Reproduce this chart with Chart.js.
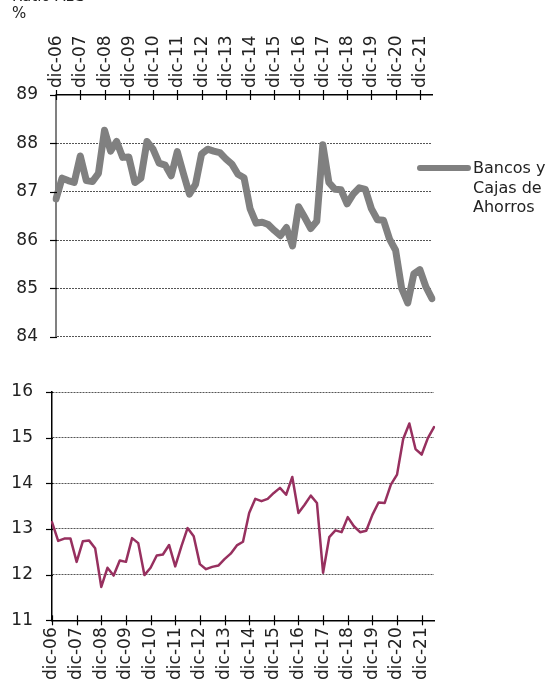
<!DOCTYPE html>
<html lang="es">
<head>
  <meta charset="UTF-8" />
  <title>Ratio por tipo de entidad</title>
  <script src="https://cdn.jsdelivr.net/npm/chart.js"></script>
  <style>
    * {
      box-sizing: border-box;
      margin: 0;
      padding: 0;
    }

    body {
      width: 558px;
      height: 686px;
      background: #fff;
      position: relative;
      overflow: hidden;
      font-family: 'DejaVu Sans', sans-serif;
    }

    #topChart {
      position: absolute;
      left: 0;
      top: 0;
    }

    #botChart {
      position: absolute;
      left: 0;
      top: 360px;
    }
  </style>
</head>
<body>

<canvas id="topChart" width="558" height="365"></canvas>
<canvas id="botChart" width="558" height="326"></canvas>

<script>
  // trimestres dic-06 .. jun-22
  const months = ['mar', 'jun', 'sep', 'dic'];
  const quarterLabels = ['dic-06'];
  for (let y = 7; y <= 22; y++) {
    for (const m of months) {
      if (y === 22 && (m === 'sep' || m === 'dic')) continue;
      quarterLabels.push(m + '-' + String(y).padStart(2, '0'));
    }
  }

  const bancosValues = [
    86.85, 87.28, 87.23, 87.19, 87.74, 87.23, 87.21, 87.38, 88.27, 87.84,
    88.04, 87.71, 87.72, 87.19, 87.28, 88.04, 87.88, 87.59, 87.55, 87.33,
    87.83, 87.38, 86.95, 87.15, 87.78, 87.88, 87.84, 87.81, 87.68, 87.57,
    87.36, 87.29, 86.65, 86.35, 86.37, 86.32, 86.20, 86.09, 86.26, 85.88,
    86.69, 86.47, 86.24, 86.39, 87.97, 87.19, 87.05, 87.04, 86.75, 86.95,
    87.08, 87.05, 86.65, 86.42, 86.41, 86.02, 85.79, 85.00, 84.70, 85.30,
    85.39, 85.03, 84.79
  ];

  const coopValues = [
    13.15, 12.74, 12.79, 12.79, 12.28, 12.73, 12.75, 12.58, 11.73, 12.15,
    11.98, 12.31, 12.28, 12.80, 12.69, 11.99, 12.15, 12.42, 12.44, 12.65,
    12.18, 12.62, 13.02, 12.84, 12.23, 12.12, 12.17, 12.20, 12.34, 12.46,
    12.64, 12.72, 13.35, 13.66, 13.61, 13.66, 13.79, 13.90, 13.75, 14.14,
    13.35, 13.53, 13.73, 13.57, 12.04, 12.82, 12.97, 12.93, 13.26, 13.06,
    12.93, 12.96, 13.31, 13.58, 13.57, 13.97, 14.19, 14.97, 15.31, 14.75,
    14.63, 14.99, 15.23
  ];

  const bancosTicks = [84, 85, 86, 87, 88, 89];
  const coopTicks = [11, 12, 13, 14, 15, 16];
  const bancosLegend = ['Bancos y', 'Cajas de', 'Ahorros'];
  const coopLegend = ['Coop.', 'de', 'Crédito'];

  const FONT = "'DejaVu Sans', sans-serif";
  Chart.defaults.font.family = FONT;

  // marcas que cruzan los ejes + leyenda a la derecha
  const decor = {
    id: 'decor',
    afterDraw(chart, args, o) {
      const ctx = chart.ctx;
      const xs = chart.scales.x;
      const ys = chart.scales.y;
      const area = chart.chartArea;
      const axisY = o.xTop ? area.top : area.bottom;

      ctx.save();
      ctx.strokeStyle = '#000';
      ctx.lineWidth = 1.2;
      ctx.fillStyle = '#222';
      ctx.font = '17px ' + FONT;
      for (let i = 0; i < quarterLabels.length; i += 4) {
        const px = Math.round(xs.getPixelForValue(i)) + 0.5;
        ctx.beginPath();
        ctx.moveTo(px, axisY - 5);
        ctx.lineTo(px, axisY + 5);
        ctx.stroke();
        if (o.xTop) {
          // etiquetas de arriba, giradas
          ctx.save();
          ctx.translate(px, axisY - 7);
          ctx.rotate(-Math.PI / 2);
          ctx.textAlign = 'left';
          ctx.textBaseline = 'middle';
          ctx.fillText(quarterLabels[i], 0, 0);
          ctx.restore();
        }
      }
      ys.ticks.forEach(t => {
        const py = Math.round(ys.getPixelForValue(t.value)) + 0.5;
        ctx.beginPath();
        ctx.moveTo(area.left - 6, py);
        ctx.lineTo(area.left + 1, py);
        ctx.stroke();
      });

      ctx.strokeStyle = o.color;
      ctx.lineWidth = o.width;
      ctx.lineCap = 'round';
      ctx.beginPath();
      ctx.moveTo(o.x1, o.y);
      ctx.lineTo(o.x2, o.y);
      ctx.stroke();

      ctx.font = '16px ' + FONT;
      ctx.textBaseline = 'middle';
      ctx.textAlign = 'left';
      o.lines.forEach((t, i) => ctx.fillText(t, o.textX, o.y + 1 + i * 19.5));

      if (o.unit) {
        ctx.font = '15px ' + FONT;
        ctx.fillText('Ratio ABS', 12, -3);
        ctx.fillText('%', 12, 14);
      }
      ctx.restore();
    }
  };

  function makeChart(id, values, ticks, opts) {
    const ctx = document.getElementById(id).getContext('2d');
    return new Chart(ctx, {
      type: 'line',
      data: {
        labels: quarterLabels,
        datasets: [{
          data: values,
          borderColor: opts.color,
          borderWidth: opts.lineWidth,
          borderJoinStyle: 'round',
          borderCapStyle: 'round',
          pointRadius: 0,
          tension: 0,
          fill: false
        }]
      },
      options: {
        responsive: false,
        animation: false,
        layout: { padding: opts.padding },
        plugins: {
          legend: { display: false },
          tooltip: { enabled: false },
          decor: opts.decor
        },
        scales: {
          x: {
            position: opts.xTop ? 'top' : 'bottom',
            offset: false,
            grid: { drawOnChartArea: false, drawTicks: false },
            border: { color: '#000', width: 1.5 },
            ticks: {
              display: !opts.xTop,
              autoSkip: false,
              maxRotation: 90,
              minRotation: 90,
              padding: 7,
              color: '#222',
              font: { size: 17 },
              callback: (v, i) => (i % 4 === 0 ? quarterLabels[i] : '')
            },
            afterFit: s => { s.height = opts.xHeight; }
          },
          y: {
            min: ticks[0],
            max: ticks[ticks.length - 1],
            afterBuildTicks: s => { s.ticks = ticks.map(v => ({ value: v })); },
            grid: {
              drawTicks: false,
              lineWidth: 1,
              color: c => (c.tick.value === opts.axisValue ? 'rgba(0,0,0,0)' : '#555')
            },
            border: { color: opts.yBorder, width: opts.yBorderWidth, dash: [2, 1] },
            ticks: {
              padding: opts.yPad,
              color: '#222',
              font: { size: 17 }
            },
            afterFit: s => { s.width = opts.yWidth; }
          }
        }
      },
      plugins: [decor]
    });
  }

  makeChart('topChart', bancosValues, bancosTicks, {
    color: '#808080',
    lineWidth: 7,
    xTop: true,
    xHeight: 95,
    yWidth: 56,
    yPad: 18,
    axisValue: 89,
    yBorder: '#808080',
    yBorderWidth: 2,
    padding: { left: 0, right: 126, top: 0, bottom: 18 },
    decor: {
      xTop: true, unit: true,
      color: '#808080', width: 6,
      x1: 420, x2: 468, y: 168, textX: 473,
      lines: bancosLegend
    }
  });

  makeChart('botChart', coopValues, coopTicks, {
    color: '#97305f',
    lineWidth: 2.5,
    xTop: false,
    xHeight: 65.7,
    yWidth: 52,
    yPad: 19,
    axisValue: 11,
    yBorder: '#000',
    yBorderWidth: 1.5,
    padding: { left: 0, right: 124, top: 32, bottom: 0 },
    decor: {
      xTop: false, unit: false,
      color: '#97305f', width: 3,
      x1: 432, x2: 480, y: 564, textX: 486,
      lines: coopLegend
    }
  });
</script>

</body>
</html>
